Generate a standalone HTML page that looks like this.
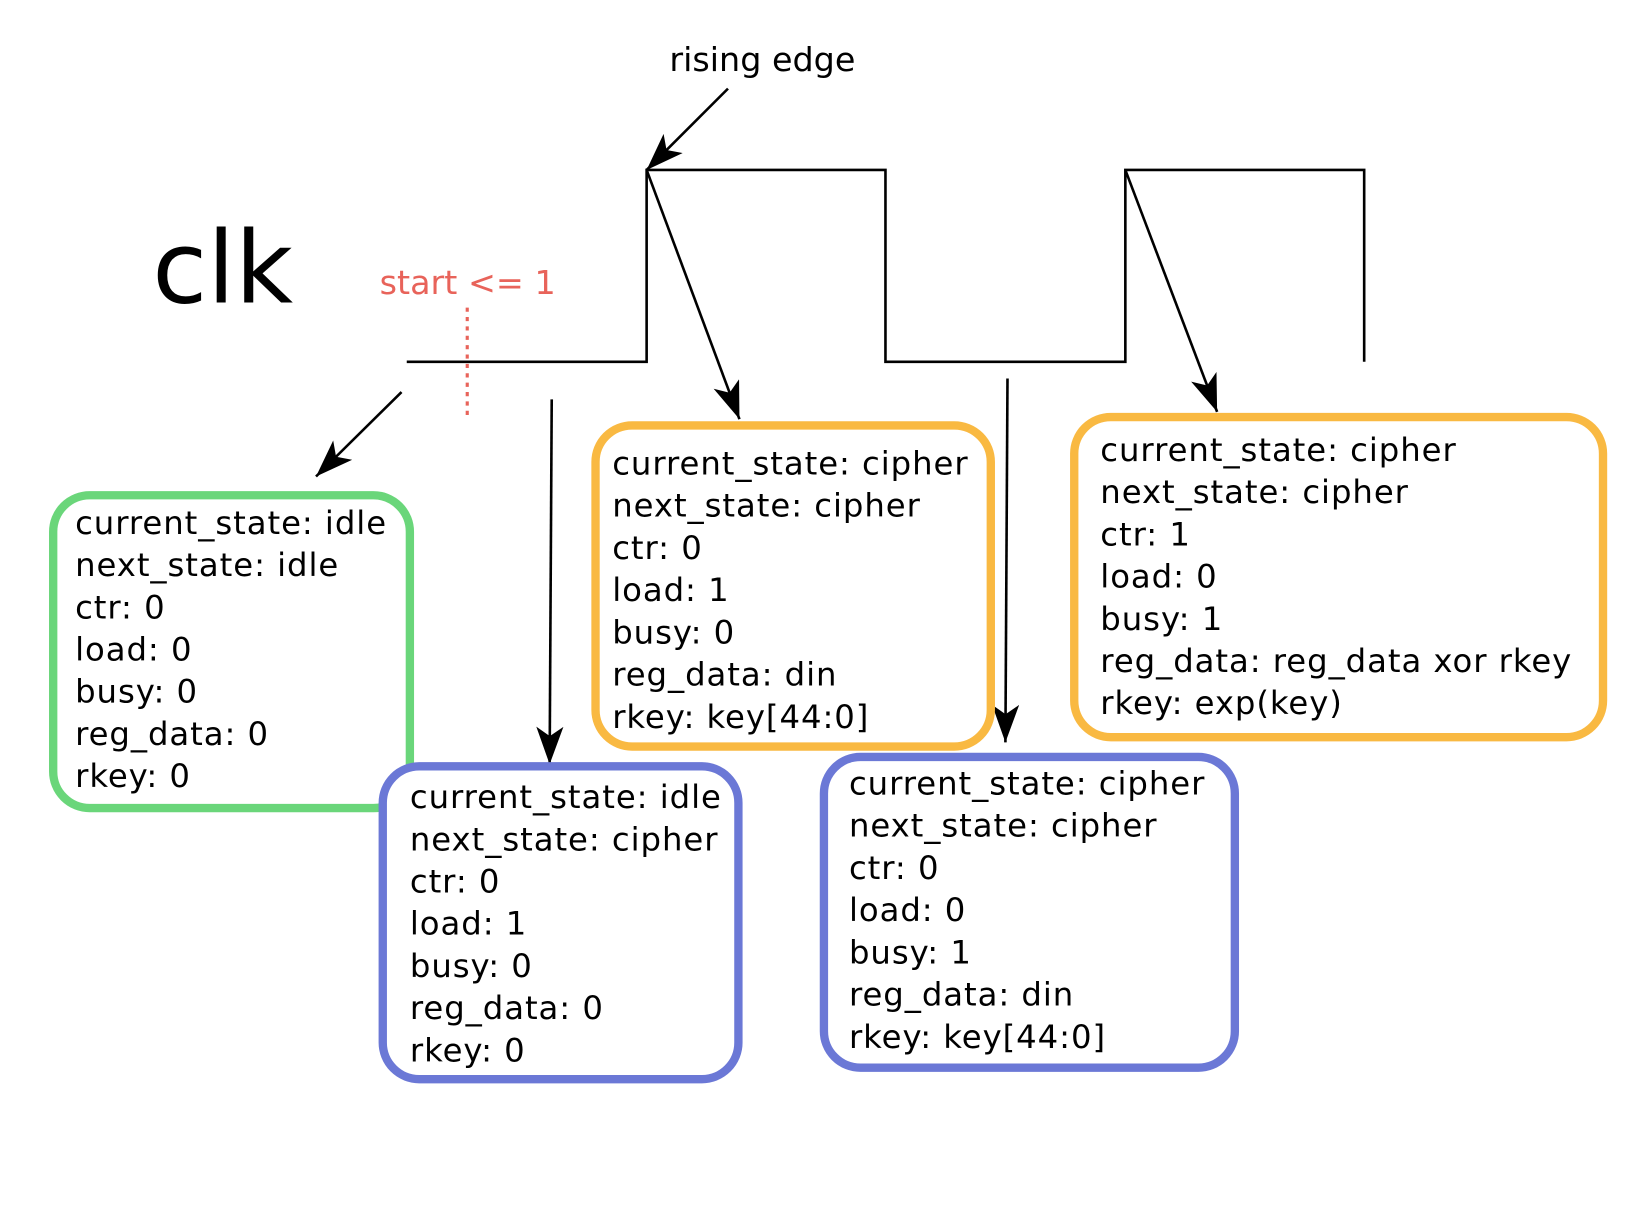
<!DOCTYPE html>
<html><head><style>html,body{margin:0;padding:0;background:#fff;}svg{display:block}</style></head>
<body>
<svg width="1627" height="1222" viewBox="0 0 1560 1172" preserveAspectRatio="none" xmlns="http://www.w3.org/2000/svg">
<defs>
<marker id="a" markerWidth="40" markerHeight="30" refX="36" refY="13" orient="auto" markerUnits="userSpaceOnUse">
<path d="M0,0 L36,13 L0,26 L9,13 Z" fill="#000"/>
</marker>
</defs>
<rect width="1560" height="1172" fill="#fff"/>
<g font-family="DejaVu Sans, Liberation Sans, sans-serif">
<text x="731" y="68" font-size="32" text-anchor="middle">rising edge</text>
<text x="146" y="290" font-size="96">clk</text>
<text x="364" y="282" font-size="32" fill="#E8635A">start &lt;= 1</text>
</g>
<line x1="448" y1="295" x2="448" y2="400" stroke="#E8635A" stroke-width="3" stroke-dasharray="4,5"/>
<polyline points="390,347 620,347 620,163 849,163 849,347 1079,347 1079,163 1308,163 1308,347" fill="none" stroke="#000" stroke-width="2.5"/>
<g stroke="#000" stroke-width="2.5" marker-end="url(#a)">
<line x1="698" y1="85" x2="620" y2="163"/>
<line x1="385" y1="376" x2="303" y2="457"/>
<line x1="529" y1="383" x2="527" y2="733"/>
<line x1="620" y1="163" x2="709" y2="402"/>
<line x1="966" y1="363" x2="964" y2="712"/>
<line x1="1079" y1="163" x2="1167" y2="395"/>
</g>
<g fill="#fff" stroke-width="8">
<rect x="51" y="475" width="342" height="300" rx="35" stroke="#6AD67A"/>
<rect x="367" y="735" width="341" height="300" rx="35" stroke="#6B78D6"/>
<rect x="571" y="408" width="379" height="308" rx="35" stroke="#F9B942"/>
<rect x="790" y="726" width="394" height="298" rx="35" stroke="#6B78D6"/>
<rect x="1030" y="400" width="507" height="307" rx="35" stroke="#F9B942"/>
</g>
<g font-family="DejaVu Sans, Liberation Sans, sans-serif" font-size="31" letter-spacing="0.9" fill="#000">
<text x="72" y="512"><tspan x="72">current_state: idle</tspan><tspan x="72" dy="40.5">next_state: idle</tspan><tspan x="72" dy="40.5">ctr: 0</tspan><tspan x="72" dy="40.5">load: 0</tspan><tspan x="72" dy="40.5">busy: 0</tspan><tspan x="72" dy="40.5">reg_data: 0</tspan><tspan x="72" dy="40.5">rkey: 0</tspan></text>
<text x="393" y="775"><tspan x="393">current_state: idle</tspan><tspan x="393" dy="40.5">next_state: cipher</tspan><tspan x="393" dy="40.5">ctr: 0</tspan><tspan x="393" dy="40.5">load: 1</tspan><tspan x="393" dy="40.5">busy: 0</tspan><tspan x="393" dy="40.5">reg_data: 0</tspan><tspan x="393" dy="40.5">rkey: 0</tspan></text>
<text x="587" y="455"><tspan x="587">current_state: cipher</tspan><tspan x="587" dy="40.5">next_state: cipher</tspan><tspan x="587" dy="40.5">ctr: 0</tspan><tspan x="587" dy="40.5">load: 1</tspan><tspan x="587" dy="40.5">busy: 0</tspan><tspan x="587" dy="40.5">reg_data: din</tspan><tspan x="587" dy="40.5">rkey: key[44:0]</tspan></text>
<text x="814" y="762"><tspan x="814">current_state: cipher</tspan><tspan x="814" dy="40.5">next_state: cipher</tspan><tspan x="814" dy="40.5">ctr: 0</tspan><tspan x="814" dy="40.5">load: 0</tspan><tspan x="814" dy="40.5">busy: 1</tspan><tspan x="814" dy="40.5">reg_data: din</tspan><tspan x="814" dy="40.5">rkey: key[44:0]</tspan></text>
<text x="1055" y="442"><tspan x="1055">current_state: cipher</tspan><tspan x="1055" dy="40.5">next_state: cipher</tspan><tspan x="1055" dy="40.5">ctr: 1</tspan><tspan x="1055" dy="40.5">load: 0</tspan><tspan x="1055" dy="40.5">busy: 1</tspan><tspan x="1055" dy="40.5">reg_data: reg_data xor rkey</tspan><tspan x="1055" dy="40.5">rkey: exp(key)</tspan></text>
</g>
</svg>
</body></html>
